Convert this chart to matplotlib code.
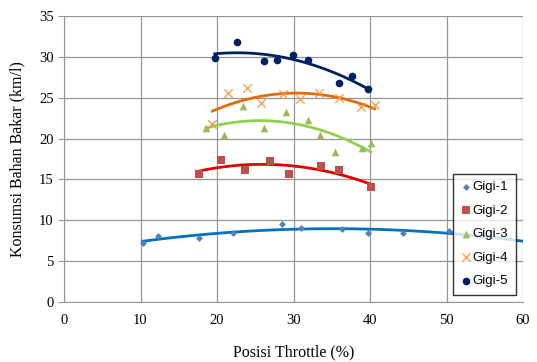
import numpy as np
import matplotlib.pyplot as plt

# throttle position (%) and fuel consumption (km/l) per gear
x1 = [10.3, 12.3, 17.6, 22.1, 28.5, 31.0, 36.4, 39.7, 44.3, 50.3]
y1 = [7.2, 8.1, 7.8, 8.4, 9.6, 9.0, 8.9, 8.5, 8.5, 8.7]
x2 = [17.6, 20.5, 23.6, 26.9, 29.4, 33.6, 35.9, 40.1]
y2 = [15.7, 17.4, 16.1, 17.3, 15.7, 16.6, 16.1, 14.1]
x3 = [18.5, 20.9, 23.4, 26.2, 29.0, 31.9, 33.4, 35.4, 39.0, 40.1]
y3 = [21.3, 20.4, 24.0, 21.3, 23.3, 22.3, 20.4, 18.3, 18.8, 19.5]
x4 = [19.4, 21.4, 23.9, 25.8, 28.6, 30.9, 33.3, 35.9, 38.8, 40.6]
y4 = [21.8, 25.6, 26.2, 24.4, 25.4, 24.8, 25.6, 25.0, 23.9, 24.1]
x5 = [19.7, 22.6, 26.1, 27.9, 29.9, 31.9, 36.0, 37.7, 39.7]
y5 = [29.8, 31.8, 29.5, 29.6, 30.2, 29.6, 26.8, 27.7, 26.1]

labels = ['Gigi-1', 'Gigi-2', 'Gigi-3', 'Gigi-4', 'Gigi-5']
series = [(x1, y1), (x2, y2), (x3, y3), (x4, y4), (x5, y5)]
markers = ['D', 's', '^', 'x', 'o']
msizes = [3.5, 5.5, 5.5, 6, 5.5]
mcolors = ['#4F81BD', '#C0504D', '#9BBB59', '#F79646', '#002060']
lcolors = ['#0070C0', '#E00000', '#92D050', '#E36C09', '#002060']
# trendline end (blue one runs forward to the edge)
xend = [60, None, None, None, None]

fig = plt.figure(figsize=(5.37, 3.62), dpi=100)
ax = fig.add_axes([64/537, 1 - 302/362, (523-64)/537, (302-16)/362])

for (xs, ys), lab, m, ms, mc, lc, xe in zip(series, labels, markers, msizes, mcolors, lcolors, xend):
    c = np.polyfit(xs, ys, 2)
    xx = np.linspace(min(xs), xe if xe else max(xs), 100)
    ax.plot(xx, np.polyval(c, xx), color=lc, lw=2, zorder=2)
    ax.scatter(xs, ys, marker=m, s=ms**2, color=mc, linewidths=0.9 if m == 'x' else 0,
               label=lab, zorder=3)

ax.set_xlim(0, 60)
ax.set_ylim(0, 35)
ax.set_xticks(range(0, 61, 10))
ax.set_yticks(range(0, 36, 5))
ax.grid(True, color='#969696', lw=0.9)
ax.set_axisbelow(True)
for s in ['top', 'right']:
    ax.spines[s].set_visible(False)
for s in ['left', 'bottom']:
    ax.spines[s].set_color('#969696')
ax.tick_params(axis='both', colors='#969696', labelcolor='black', labelsize=10.5, length=4)
ax.tick_params(axis='x', length=0, pad=9)
for t in ax.get_xticklabels() + ax.get_yticklabels():
    t.set_family('Liberation Serif')

ax.set_xlabel('Posisi Throttle (%)', family='Liberation Serif', fontsize=11.5, labelpad=12)
ax.set_ylabel('Konsumsi Bahan Bakar (km/l)', family='Liberation Serif', fontsize=11.5, labelpad=10)

leg = ax.legend(loc='upper left', bbox_to_anchor=(453/537, 1 - 174/362), bbox_transform=fig.transFigure,
                frameon=True, fancybox=False, edgecolor='black', handletextpad=0.05,
                handlelength=0.9, labelspacing=0.85, borderpad=0.55, borderaxespad=0,
                prop={'family': 'Liberation Sans', 'size': 9.5})
leg.get_frame().set_linewidth(1)

fig.savefig('out.png', dpi=100)
